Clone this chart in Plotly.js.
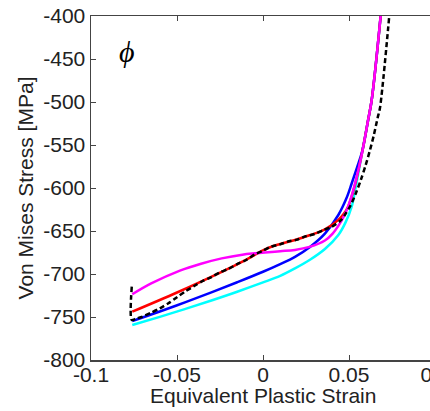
<!DOCTYPE html>
<html>
<head>
<meta charset="utf-8">
<script src="https://cdn.plot.ly/plotly-3.0.1.min.js"></script>
<style>
html,body{margin:0;padding:0;overflow:hidden;background:#fff;}
#chart{width:470px;height:411px;}
</style>
</head>
<body>
<div id="chart"></div>
<script>
// Magenta
var magX = [-0.076, -0.065, -0.0483, -0.036, -0.024, -0.012, -0.0047, 0.0012, 0.01, 0.0186, 0.027, 0.036, 0.0405, 0.0438, 0.047, 0.0494, 0.052, 0.0545, 0.0577, 0.0612, 0.0632, 0.0684];
var magY = [-723.6, -711, -696, -688, -681.8, -677.5, -676, -675, -673.5, -672, -668.5, -661, -653, -644, -633, -622, -606, -587, -558, -520, -497.7, -400];
// Red
var redX = [-0.076, -0.05, -0.024, -0.01, 0, 0.006, 0.012, 0.0186, 0.027, 0.036, 0.0438, 0.047, 0.0494, 0.052, 0.0545, 0.0577, 0.0612, 0.0632, 0.0684];
var redY = [-743.8, -721.5, -697.5, -683.5, -672.5, -667.5, -664, -660.5, -655, -648, -637, -630, -622, -607, -588, -558, -520, -497.7, -400];
// Blue
var bluX = [-0.076, -0.06, -0.045, -0.03, -0.015, 0, 0.01, 0.0186, 0.0273, 0.036, 0.0438, 0.0485, 0.0516, 0.0547, 0.0577, 0.0612, 0.0632, 0.0684];
var bluY = [-754.7, -743.6, -732.7, -721.4, -709.6, -697.4, -688.5, -680, -668.5, -653, -631.4, -612, -594.5, -576, -557, -520, -497.7, -400];
// Cyan
var cyaX = [-0.076, -0.06, -0.045, -0.03, -0.015, 0, 0.01, 0.0186, 0.0273, 0.036, 0.0438, 0.048, 0.0515, 0.054, 0.0577, 0.0612, 0.0632, 0.0684];
var cyaY = [-759.3, -749.8, -740.5, -730.8, -720.6, -709.8, -702.2, -693.5, -683.5, -671, -654.7, -640, -622, -598, -558, -520, -497.7, -400];
// Black dashed (measured)
var blkX = [-0.0763, -0.0763, -0.074, -0.07, -0.065, -0.06, -0.055, -0.05, -0.045, -0.04, -0.035, -0.03, -0.025, -0.02, -0.015, -0.01, -0.005, 0, 0.005, 0.01, 0.015, 0.02, 0.025, 0.03, 0.035, 0.04, 0.045, 0.048, 0.051, 0.054, 0.057, 0.0596, 0.0622, 0.0645, 0.0667, 0.068, 0.0734];
var blkY = [-714.7, -753.5, -752, -749.5, -745, -740, -734, -727, -720, -714, -708, -703.5, -698, -694, -688.5, -684, -677.5, -673, -668, -665.5, -662, -660, -656, -653.5, -649, -645, -638, -630, -620, -606, -590, -574, -556, -538, -518, -507, -400];

var xTickVals = [-0.1, -0.05, 0, 0.05, 0.1];
var xTickText = ["-0.1", "-0.05", "0", "0.05", "0.1"];
var yTickVals = [-800, -750, -700, -650, -600, -550, -500, -450, -400];
var yTickText = ["-800", "-750", "-700", "-650", "-600", "-550", "-500", "-450", "-400"];

function line(x, y, color) {
  return {x: x, y: y, type: 'scatter', mode: 'lines', hoverinfo: 'skip',
    line: {color: color, width: 2.5, shape: 'spline', smoothing: 1}};
}

var traces = [
  line(cyaX, cyaY, '#00ffff'),
  line(bluX, bluY, '#0000ff'),
  line(redX, redY, '#ff0000'),
  line(magX, magY, '#ff00ff'),
  {x: blkX, y: blkY, type: 'scatter', mode: 'lines', hoverinfo: 'skip',
   line: {color: '#000000', width: 2.5, dash: '5px,3px', shape: 'spline', smoothing: 0.8}}
];

var font = {family: 'Liberation Sans, Arial, sans-serif', size: 21, color: '#222'};

var layout = {
  width: 470, height: 411,
  margin: {l: 91, r: 35, t: 16, b: 51},
  paper_bgcolor: '#fff', plot_bgcolor: '#fff',
  showlegend: false,
  font: font,
  xaxis: {
    range: [-0.1, 0.1], tickvals: xTickVals, ticktext: xTickText,
    ticks: 'inside', ticklen: 5, tickcolor: '#444', mirror: 'ticks',
    showline: true, linecolor: '#444', linewidth: 1.5, showgrid: false, zeroline: false,
    tickfont: font, ticklabeloverflow: 'allow', ticklabelstandoff: -5
  },
  yaxis: {
    range: [-800, -400], tickvals: yTickVals, ticktext: yTickText,
    ticks: 'inside', ticklen: 5, tickcolor: '#444', mirror: 'ticks',
    showline: true, linecolor: '#444', linewidth: 1.5, showgrid: false, zeroline: false,
    tickfont: font,
    title: {text: 'Von Mises Stress [MPa]', font: font, standoff: 4}
  },
  annotations: [{
    x: -0.0792, y: -440.7, xref: 'x', yref: 'y', showarrow: false,
    text: '<i>ϕ</i>', font: {family: 'Liberation Serif, Times New Roman, serif', size: 30, color: '#000'}
  }, {
    x: 0, y: -0.103, xref: 'x', yref: 'paper', showarrow: false, yanchor: 'middle',
    text: 'Equivalent Plastic Strain', font: font
  }]
};

Plotly.newPlot('chart', traces, layout, {staticPlot: true, displayModeBar: false});
</script>
</body>
</html>
